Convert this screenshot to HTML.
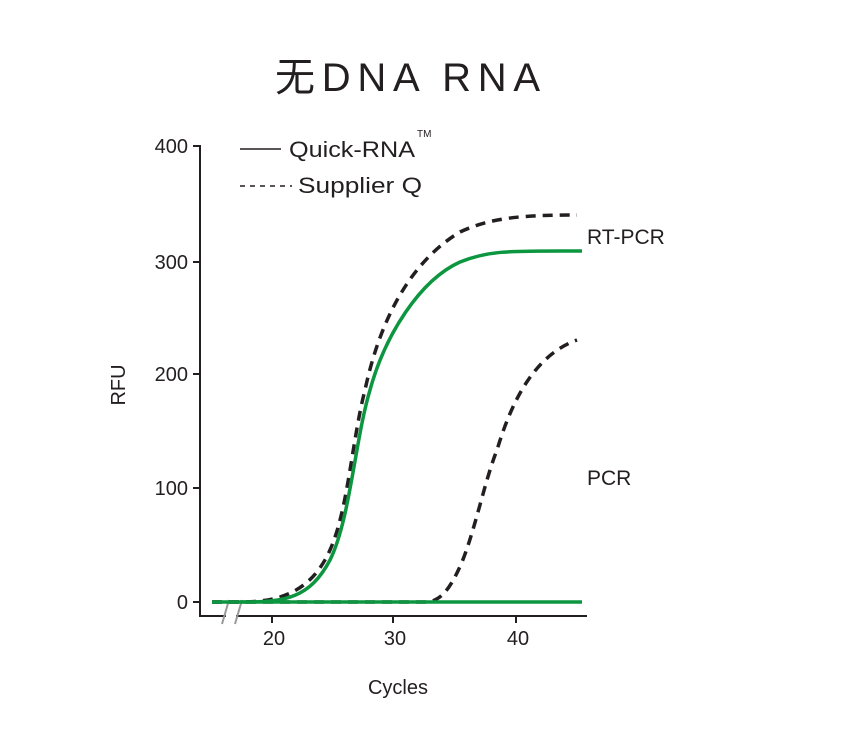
<!DOCTYPE html>
<html><head><meta charset="utf-8"><style>
body{margin:0;background:#fff}
svg text{font-family:"Liberation Sans","Noto Sans CJK SC",sans-serif;fill:#231f20}
</style></head><body>
<svg width="854" height="727" viewBox="0 0 854 727" xmlns="http://www.w3.org/2000/svg">
<text x="275" y="91" font-size="40" textLength="265" lengthAdjust="spacing">无DNA RNA</text>
<!-- axes -->
<g stroke="#231f20" stroke-width="2" fill="none">
<path d="M193,146 H200 V616 H587"/>
<path d="M193,262 H200 M193,374 H200 M193,488 H200 M193,602 H200"/>
<path d="M272,616 V623 M393,616 V623 M516,616 V623"/>
</g>
<rect x="226" y="610" width="10" height="10" fill="#fff"/>
<g stroke="#999" stroke-width="2">
<line x1="222" y1="624" x2="229" y2="600"/>
<line x1="235" y1="624" x2="242" y2="600"/>
</g>
<g font-size="20" text-anchor="end">
<text x="188" y="153">400</text>
<text x="188" y="269">300</text>
<text x="188" y="381">200</text>
<text x="188" y="495">100</text>
<text x="188" y="609">0</text>
</g>
<g font-size="20" text-anchor="middle">
<text x="274" y="645">20</text>
<text x="395" y="645">30</text>
<text x="518" y="645">40</text>
<text x="398" y="694">Cycles</text>
</g>
<text font-size="20" text-anchor="middle" transform="translate(125,385) rotate(-90)">RFU</text>
<text x="587" y="244" font-size="21">RT-PCR</text>
<text x="587" y="485" font-size="21">PCR</text>
<!-- legend -->
<line x1="240" y1="149" x2="281" y2="149" stroke="#231f20" stroke-width="1.6"/>
<text x="289" y="157" font-size="22" textLength="126" lengthAdjust="spacingAndGlyphs">Quick-RNA</text>
<text x="417" y="137" font-size="10">TM</text>
<line x1="240" y1="186" x2="292" y2="186" stroke="#231f20" stroke-width="1.6" stroke-dasharray="5,5"/>
<text x="298" y="193" font-size="22" textLength="124" lengthAdjust="spacingAndGlyphs">Supplier Q</text>
<!-- series -->
<g fill="none" stroke-width="3.5" stroke-linejoin="round" stroke-linecap="butt">
<path stroke="#231f20" stroke-dasharray="10,7" d="M212,602 H240 C275,602 310,595 330,550 C348,510 352,440 365,390 C380,320 410,262 460,232 C490,218 520,215 577,215"/>
<path stroke="#231f20" stroke-dasharray="10,7" d="M212,602 H425 C440,602 450,590 462,562 C475,530 485,480 497,450 C512,400 535,355 577,340"/>
<path stroke="#0c9640" d="M212,602 H582"/>
<path stroke="#0c9640" d="M240,602 H245 C285,602 310,598 330,560 C350,520 355,440 370,390 C385,335 420,280 460,262 C490,250 510,251 582,251"/>
</g>
</svg>
</body></html>
